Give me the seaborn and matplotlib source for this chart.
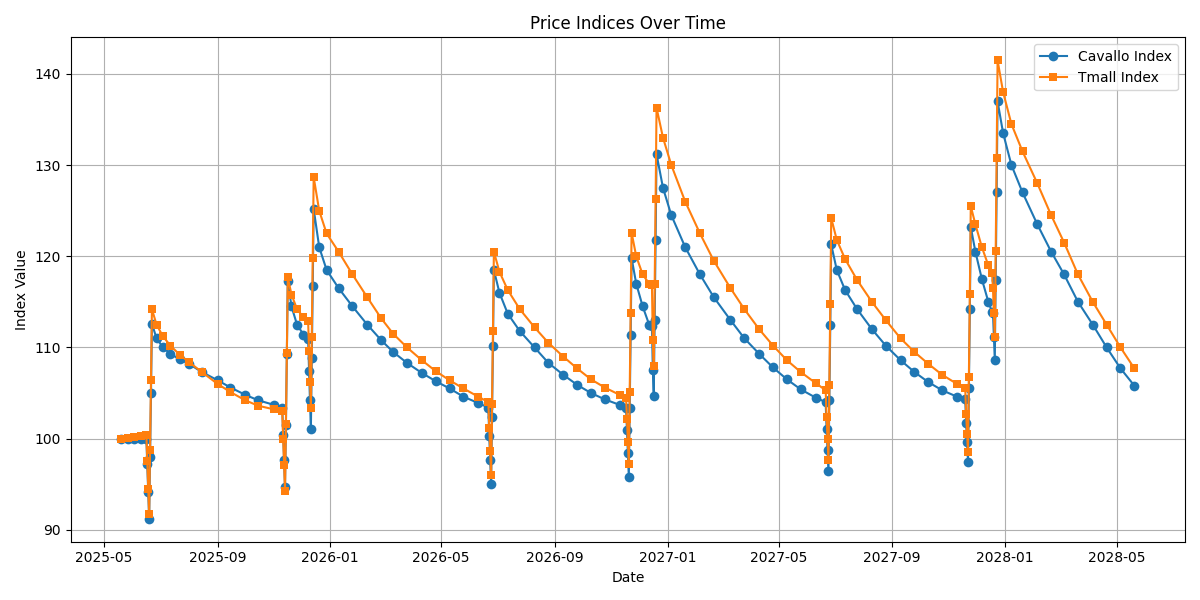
import pandas as pd
import matplotlib
matplotlib.use('Agg')
import matplotlib.pyplot as plt
import matplotlib.dates as mdates
import seaborn as sns

dates = [
    '2025-05-20','2025-05-27','2025-06-03','2025-06-10','2025-06-16',
    '2025-06-17','2025-06-18','2025-06-19','2025-06-20','2025-06-21','2025-06-22',
    '2025-06-27','2025-07-04','2025-07-12','2025-07-22','2025-08-01','2025-08-15',
    '2025-09-01','2025-09-15','2025-10-01','2025-10-15','2025-11-01','2025-11-10',
    '2025-11-11','2025-11-12','2025-11-13','2025-11-14','2025-11-15','2025-11-16',
    '2025-11-20','2025-11-26','2025-12-03','2025-12-08',
    '2025-12-09','2025-12-10','2025-12-11','2025-12-12','2025-12-13','2025-12-14',
    '2025-12-20','2025-12-28','2026-01-10','2026-01-25','2026-02-10','2026-02-25',
    '2026-03-10','2026-03-25','2026-04-10','2026-04-25','2026-05-10','2026-05-25',
    '2026-06-10','2026-06-21',
    '2026-06-22','2026-06-23','2026-06-24','2026-06-25','2026-06-26','2026-06-27',
    '2026-07-03','2026-07-12','2026-07-25','2026-08-10','2026-08-25','2026-09-10',
    '2026-09-25','2026-10-10','2026-10-25','2026-11-10','2026-11-17',
    '2026-11-18','2026-11-19','2026-11-20','2026-11-21','2026-11-22','2026-11-23',
    '2026-11-28','2026-12-05','2026-12-12','2026-12-15',
    '2026-12-16','2026-12-17','2026-12-18','2026-12-19','2026-12-20',
    '2026-12-27','2027-01-05','2027-01-20','2027-02-05','2027-02-20','2027-03-10',
    '2027-03-25','2027-04-10','2027-04-25','2027-05-10','2027-05-25','2027-06-10',
    '2027-06-21',
    '2027-06-22','2027-06-23','2027-06-24','2027-06-25','2027-06-26','2027-06-27',
    '2027-07-03','2027-07-12','2027-07-25','2027-08-10','2027-08-25','2027-09-10',
    '2027-09-25','2027-10-10','2027-10-25','2027-11-10','2027-11-19',
    '2027-11-20','2027-11-21','2027-11-22','2027-11-23','2027-11-24','2027-11-25',
    '2027-11-30','2027-12-07','2027-12-14','2027-12-18',
    '2027-12-19','2027-12-20','2027-12-21','2027-12-22','2027-12-23','2027-12-24',
    '2027-12-30','2028-01-08','2028-01-20','2028-02-05','2028-02-20','2028-03-05',
    '2028-03-20','2028-04-05','2028-04-20','2028-05-05','2028-05-20',
]

cavallo = [
    100, 100, 100, 100, 100,
    97.2, 94.1, 91.2, 98.0, 105.0, 112.6,
    111.0, 110.0, 109.3, 108.7, 108.2, 107.3,
    106.4, 105.6, 104.8, 104.2, 103.7, 103.4,
    100.4, 97.6, 94.7, 101.5, 109.3, 117.3,
    114.5, 112.5, 111.4, 110.9,
    107.4, 104.2, 101.1, 108.8, 116.7, 125.2,
    121.0, 118.5, 116.5, 114.5, 112.5, 110.8,
    109.5, 108.3, 107.2, 106.3, 105.5, 104.6,
    103.9, 103.4,
    100.3, 97.6, 95.0, 102.4, 110.2, 118.5,
    116.0, 113.7, 111.8, 110.0, 108.3, 107.0,
    105.9, 105.0, 104.3, 103.7, 103.4,
    100.9, 98.4, 95.8, 103.3, 111.4, 119.8,
    117.0, 114.5, 112.5, 112.3,
    107.5, 104.7, 113.0, 121.8, 131.2,
    127.5, 124.5, 121.0, 118.0, 115.5, 113.0,
    111.0, 109.3, 107.8, 106.5, 105.4, 104.5,
    104.0,
    101.0, 98.7, 96.4, 104.2, 112.5, 121.3,
    118.5, 116.3, 114.2, 112.0, 110.2, 108.6,
    107.3, 106.2, 105.3, 104.6, 104.3,
    101.7, 99.6, 97.4, 105.5, 114.2, 123.2,
    120.5, 117.5, 115.0, 113.9,
    113.8, 111.1, 108.6, 117.4, 127.0, 137.0,
    133.5, 130.0, 127.0, 123.5, 120.5, 118.0,
    115.0, 112.5, 110.0, 107.7, 105.8,
]

tmall = [
    100, 100.1, 100.2, 100.3, 100.4,
    97.5, 94.5, 91.7, 98.8, 106.4, 114.2,
    112.5, 111.2, 110.2, 109.2, 108.4, 107.3,
    106.0, 105.1, 104.2, 103.6, 103.2, 103.0,
    100.0, 97.1, 94.3, 101.6, 109.4, 117.7,
    115.8, 114.2, 113.3, 112.9,
    109.6, 106.2, 103.3, 111.1, 119.8, 128.7,
    125.0, 122.5, 120.5, 118.0, 115.5, 113.2,
    111.5, 110.0, 108.6, 107.4, 106.4, 105.5,
    104.6, 104.0,
    101.2, 98.6, 96.0, 103.8, 111.8, 120.5,
    118.3, 116.3, 114.2, 112.2, 110.5, 109.0,
    107.7, 106.5, 105.6, 104.8, 104.5,
    102.2, 99.6, 97.2, 105.1, 113.8, 122.6,
    120.0, 118.0, 117.0, 116.9,
    110.8, 108.0, 117.0, 126.3, 136.3,
    133.0, 130.0, 126.0, 122.5, 119.5, 116.5,
    114.2, 112.0, 110.2, 108.6, 107.3, 106.1,
    105.3,
    102.4, 100.0, 97.6, 105.9, 114.8, 124.2,
    121.8, 119.7, 117.4, 115.0, 113.0, 111.0,
    109.5, 108.2, 107.0, 106.0, 105.5,
    102.7, 100.5, 98.5, 106.8, 115.9, 125.5,
    123.5, 121.0, 119.0, 118.2,
    116.5, 113.8, 111.1, 120.6, 130.8, 141.5,
    138.0, 134.5, 131.5, 128.0, 124.5, 121.5,
    118.0, 115.0, 112.5, 110.0, 107.7,
]

df = pd.DataFrame({'Date': pd.to_datetime(dates), 'Cavallo Index': cavallo, 'Tmall Index': tmall})

fig, ax = plt.subplots(figsize=(12, 6), dpi=100)
sns.lineplot(data=df, x='Date', y='Cavallo Index', marker='o', markersize=7,
             markeredgewidth=0, color='#1f77b4', label='Cavallo Index', ax=ax)
sns.lineplot(data=df, x='Date', y='Tmall Index', marker='s', markersize=6,
             markeredgewidth=0, color='#ff7f0e', label='Tmall Index', ax=ax)

ax.set_title('Price Indices Over Time')
ax.set_xlabel('Date')
ax.set_ylabel('Index Value')
ax.xaxis.set_major_locator(mdates.MonthLocator(bymonth=[1, 5, 9]))
ax.xaxis.set_major_formatter(mdates.DateFormatter('%Y-%m'))
ax.grid(True)
ax.legend(loc='upper right')
fig.tight_layout()
fig.savefig('out.png')
